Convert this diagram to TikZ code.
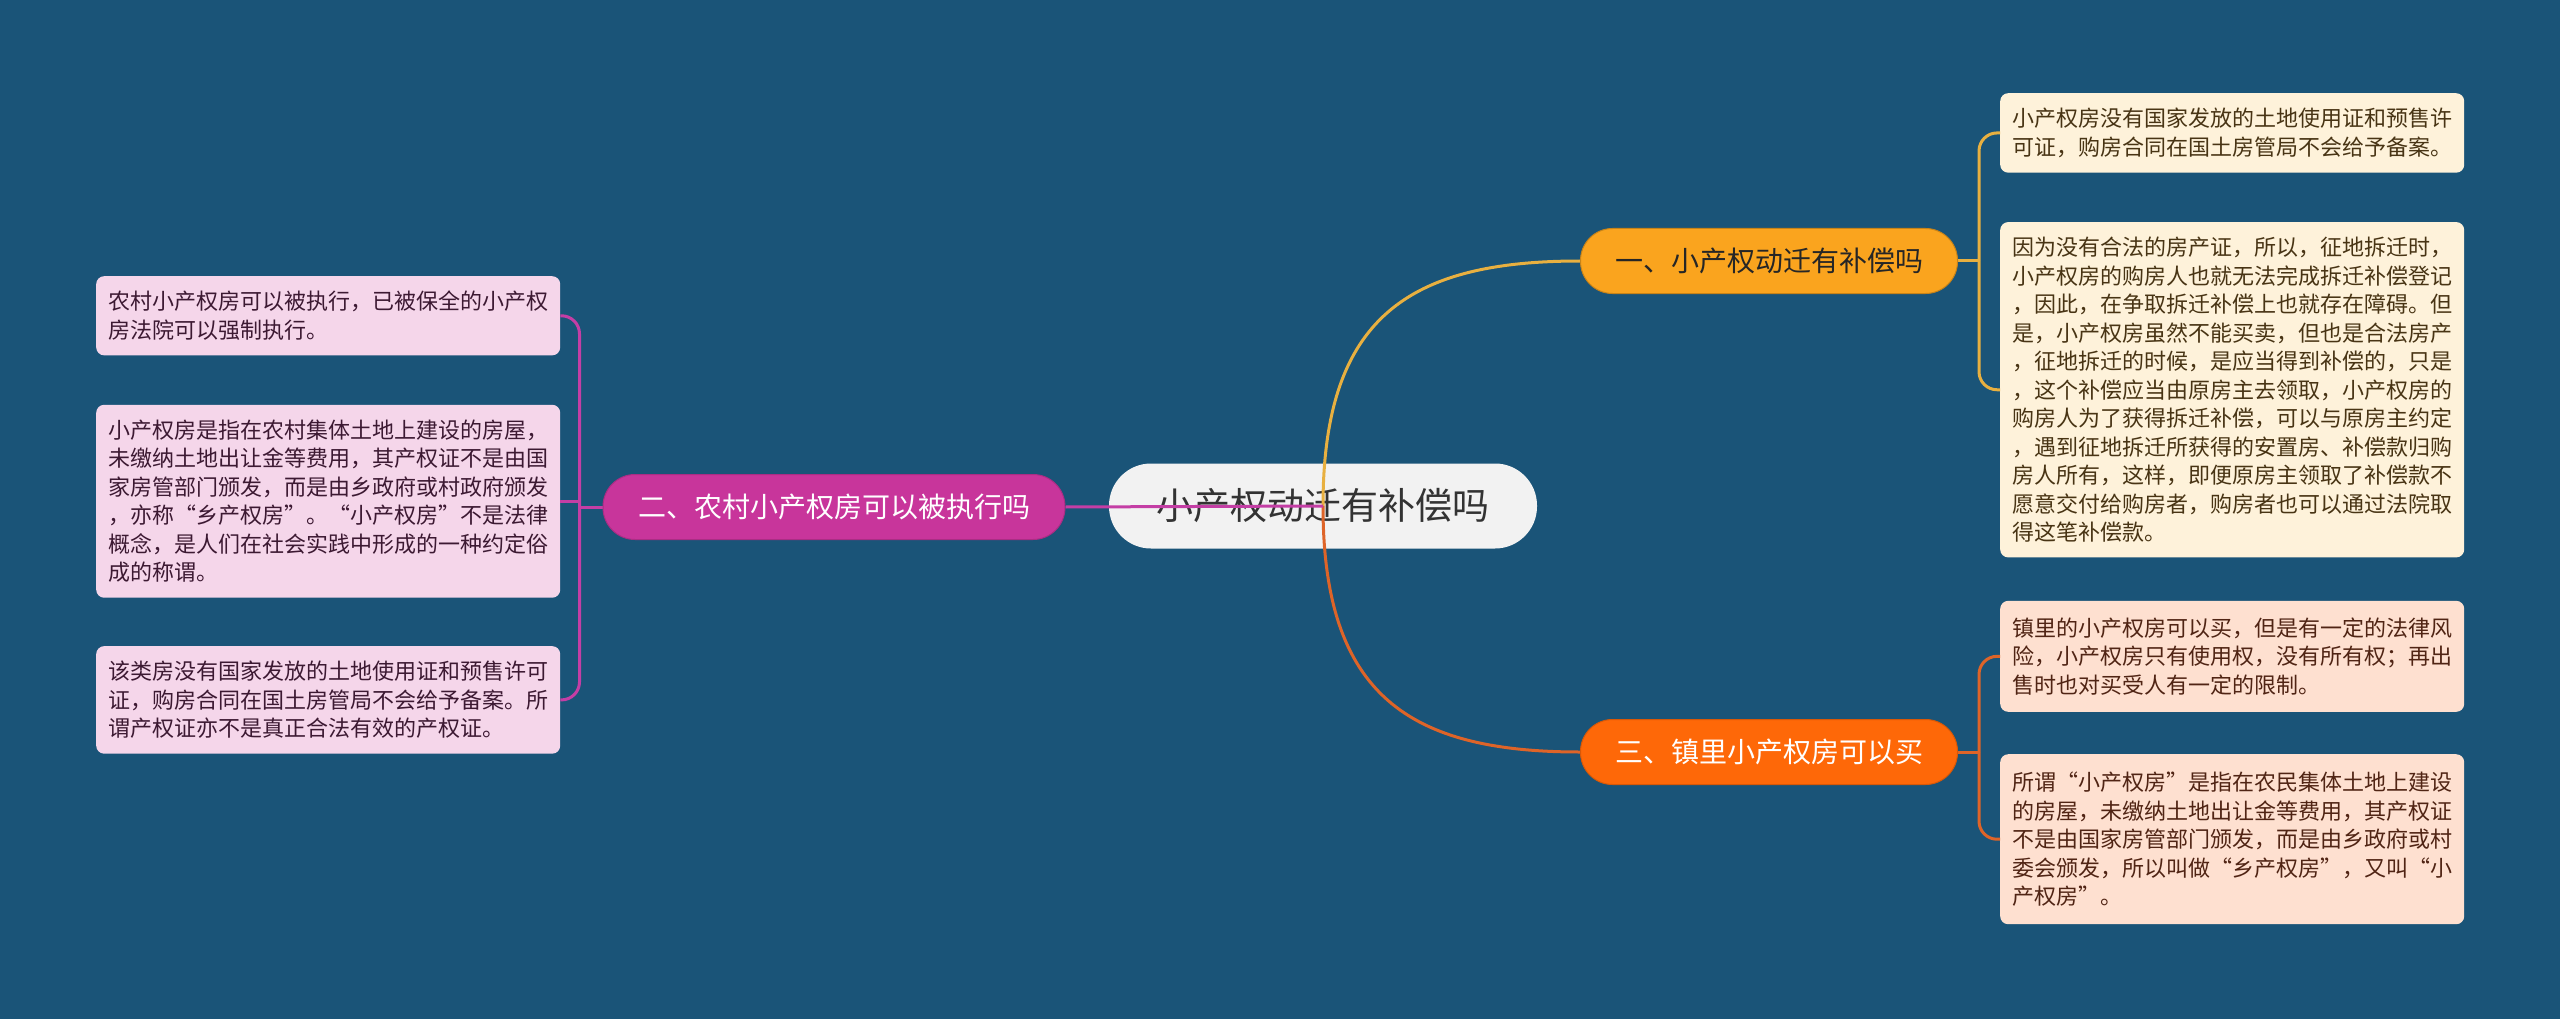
\documentclass[tikz,border=0pt]{standalone}
\usepackage{fontspec}
\setmainfont{Noto Sans CJK SC}
\usetikzlibrary{positioning,calc}
\definecolor{cBack}{RGB}{26,84,120}
\definecolor{cRoot}{RGB}{242,242,242}
\definecolor{cOne}{RGB}{250,164,30}
\definecolor{cTwo}{RGB}{200,53,155}
\definecolor{cThree}{RGB}{254,104,8}
\definecolor{cOneLeaf}{RGB}{254,242,218}
\definecolor{cTwoLeaf}{RGB}{245,214,234}
\definecolor{cThreeLeaf}{RGB}{254,224,208}
\definecolor{cOneText}{RGB}{72,52,20}
\definecolor{cTwoText}{RGB}{60,25,50}
\definecolor{cThreeText}{RGB}{80,36,20}
\definecolor{cOneLine}{RGB}{232,176,64}
\definecolor{cTwoLine}{RGB}{196,62,165}
\definecolor{cThreeLine}{RGB}{222,100,40}
\pgfdeclarelayer{front}
\pgfsetlayers{main,front}
\tikzset{
  root/.style={fill=cRoot, rounded corners=42pt, minimum width=428pt, minimum height=85pt,
               text=black!80, font=\fontsize{37}{44}\selectfont},
  topic/.style={rounded corners=32pt, minimum height=65pt, inner xsep=0pt, line width=1pt,
               font=\fontsize{28}{34}\selectfont},
  leaf/.style={rounded corners=8pt, text width=440pt, inner xsep=12pt, inner ysep=15pt,
               align=left, font=\fontsize{22}{28.5}\selectfont},
  leafone/.style={leaf, fill=cOneLeaf, text=cOneText},
  leaftwo/.style={leaf, fill=cTwoLeaf, text=cTwoText},
  leafthree/.style={leaf, fill=cThreeLeaf, text=cThreeText},
  link/.style={line width=3pt},
  twig/.style={line width=3pt, rounded corners=18pt},
}

\begin{document}
\begin{tikzpicture}[x=1pt, y=-1pt]
  \fill[cBack] (0,0) rectangle (2560,1019);
  \useasboundingbox (0,0) rectangle (2560,1019);

  \node[root] (c) at (1323,506) {小产权动迁有补偿吗};
  \begin{pgfonlayer}{front}
    \node[topic, fill=cOne, draw=cOne!80!black, text=black!85, minimum width=377pt] (b1) at (1769,261) {一、小产权动迁有补偿吗};
    \node[topic, fill=cTwo, draw=cTwo!85!black, text=white, minimum width=462pt] (b2) at (834,507) {二、农村小产权房可以被执行吗};
    \node[topic, fill=cThree, draw=cThree!85!black, text=white, minimum width=377pt] (b3) at (1769,752) {三、镇里小产权房可以买};
  \end{pgfonlayer}

  \node[leafone, anchor=north west] (r1) at (2000,93) {小产权房没有国家发放的土地使用证和预售许\\可证，购房合同在国土房管局不会给予备案。};
  \node[leafone, below=49pt of r1] (r2) {因为没有合法的房产证，所以，征地拆迁时，\\小产权房的购房人也就无法完成拆迁补偿登记\\，因此，在争取拆迁补偿上也就存在障碍。但\\是，小产权房虽然不能买卖，但也是合法房产\\，征地拆迁的时候，是应当得到补偿的，只是\\，这个补偿应当由原房主去领取，小产权房的\\购房人为了获得拆迁补偿，可以与原房主约定\\，遇到征地拆迁所获得的安置房、补偿款归购\\房人所有，这样，即便原房主领取了补偿款不\\愿意交付给购房者，购房者也可以通过法院取\\得这笔补偿款。};
  \node[leafthree, below=43pt of r2, minimum height=111pt] (r3) {镇里的小产权房可以买，但是有一定的法律风\\险，小产权房只有使用权，没有所有权；再出\\售时也对买受人有一定的限制。};
  \node[leafthree, below=42pt of r3, minimum height=170pt] (r4) {所谓“小产权房”是指在农民集体土地上建设\\的房屋，未缴纳土地出让金等费用，其产权证\\不是由国家房管部门颁发，而是由乡政府或村\\委会颁发，所以叫做“乡产权房”，又叫“小\\产权房”。};

  \node[leaftwo, anchor=north west] (l1) at (96,276) {农村小产权房可以被执行，已被保全的小产权\\房法院可以强制执行。};
  \node[leaftwo, below=49pt of l1] (l2) {小产权房是指在农村集体土地上建设的房屋，\\未缴纳土地出让金等费用，其产权证不是由国\\家房管部门颁发，而是由乡政府或村政府颁发\\，亦称“乡产权房”。“小产权房”不是法律\\概念，是人们在社会实践中形成的一种约定俗\\成的称谓。};
  \node[leaftwo, below=48pt of l2] (l3) {该类房没有国家发放的土地使用证和预售许可\\证，购房合同在国土房管局不会给予备案。所\\谓产权证亦不是真正合法有效的产权证。};

  \coordinate (j1) at ($(b1.east)+(21,0)$);
  \coordinate (j2) at ($(b2.west)+(-23,0)$);
  \coordinate (j3) at ($(b3.east)+(21,0)$);

  \draw[link, cOneLine] (c.center) .. controls +(0,-190) and +(-170,0) .. (b1.west);
  \draw[link, cThreeLine] (c.center) .. controls +(0,190) and +(-170,0) .. (b3.west);
  \draw[link, cTwoLine] (c.center) -- (b2.east);

  \draw[link, cOneLine] (b1.east) -- (j1);
  \draw[twig, cOneLine] (j1) |- (r1.west);
  \draw[twig, cOneLine] (j1) |- (r2.west);
  \draw[link, cThreeLine] (b3.east) -- (j3);
  \draw[twig, cThreeLine] (j3) |- (r3.west);
  \draw[twig, cThreeLine] (j3) |- (r4.west);
  \draw[link, cTwoLine] (b2.west) -- (j2);
  \draw[twig, cTwoLine] (j2) |- (l1.east);
  \draw[twig, cTwoLine] (j2) |- (l3.east);
  \draw[link, cTwoLine] (l2.east) -- (l2.east -| j2);
\end{tikzpicture}
\end{document}
